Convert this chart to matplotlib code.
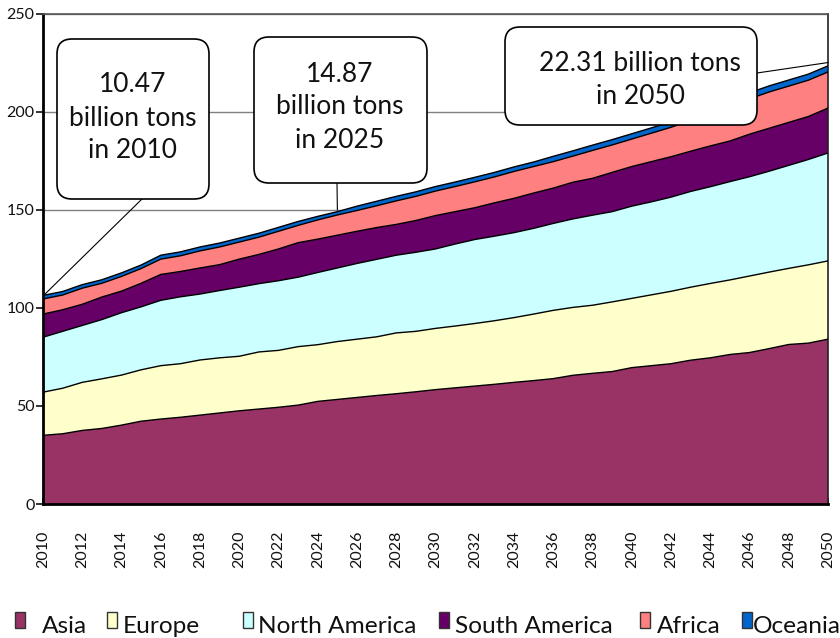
import matplotlib
matplotlib.use("Agg")
import matplotlib.pyplot as plt
from matplotlib.patches import FancyBboxPatch, Rectangle
from matplotlib.lines import Line2D

plt.rcParams['font.family'] = ['Lato', 'DejaVu Sans']

years = list(range(2010, 2051))

# Cumulative (stacked) tops of each region, unit: 100 million tons
asia_top = [35.0, 35.8, 37.5, 38.5, 40.2, 42.2, 43.3, 44.2, 45.3, 46.4, 47.5,
            48.4, 49.3, 50.4, 52.3, 53.3, 54.3, 55.3, 56.2, 57.2, 58.3,
            59.2, 60.1, 61.0, 62.0, 62.9, 63.9, 65.6, 66.6, 67.5, 69.5,
            70.5, 71.5, 73.3, 74.5, 76.2, 77.2, 79.2, 81.3, 82.0, 84.0]
europe_top = [57.0, 59.0, 62.0, 63.8, 65.7, 68.4, 70.5, 71.5, 73.4, 74.5, 75.3,
              77.5, 78.3, 80.2, 81.2, 82.8, 84.0, 85.2, 87.2, 88.0, 89.5,
              90.7, 92.0, 93.4, 95.0, 96.8, 98.7, 100.2, 101.3, 103.0, 104.8,
              106.6, 108.4, 110.5, 112.4, 114.2, 116.2, 118.2, 120.1, 121.9, 123.9]
namerica_top = [85.0, 88.0, 91.0, 94.0, 97.5, 100.5, 103.8, 105.6, 107.0, 108.8, 110.5,
                112.3, 113.8, 115.6, 118.0, 120.3, 122.6, 124.7, 126.8, 128.3, 130.0,
                132.5, 134.8, 136.5, 138.3, 140.5, 143.0, 145.3, 147.2, 149.0, 151.8,
                154.0, 156.4, 159.3, 161.7, 164.3, 166.8, 169.6, 172.6, 175.6, 178.9]
samerica_top = [96.8, 99.0, 101.8, 105.5, 108.5, 112.5, 117.0, 118.5, 120.3, 122.0, 124.8,
                127.2, 130.0, 133.2, 135.0, 137.0, 139.0, 140.9, 142.5, 144.5, 147.0,
                149.0, 151.0, 153.5, 155.8, 158.5, 161.0, 164.0, 166.0, 169.0, 172.0,
                174.5, 177.0, 179.8, 182.5, 185.0, 188.5, 191.5, 194.5, 197.5, 201.8]
africa_top = [104.5, 106.5, 110.0, 112.5, 116.0, 120.0, 124.8, 126.5, 129.0, 131.0, 133.5,
              136.0, 139.0, 142.0, 144.8, 147.3, 149.6, 152.0, 154.5, 156.8, 159.5,
              161.8, 164.2, 166.7, 169.5, 172.0, 174.5, 177.3, 180.2, 183.0, 186.0,
              189.0, 192.0, 195.5, 199.0, 202.5, 206.5, 210.0, 213.0, 216.0, 220.2]
oceania_top = [106.3, 108.3, 111.8, 114.3, 117.8, 121.8, 126.8, 128.5, 131.0, 133.0, 135.5,
               138.0, 141.0, 144.0, 146.6, 149.0, 151.8, 154.3, 156.8, 159.1, 161.8,
               164.1, 166.5, 169.0, 171.8, 174.3, 177.2, 180.0, 182.9, 185.7, 188.7,
               191.7, 194.7, 198.2, 201.7, 205.2, 209.6, 213.1, 216.1, 219.1, 223.3]

regions = ["Asia", "Europe", "North America", "South America", "Africa", "Oceania"]
colors = ["#993366", "#FFFFCC", "#CCFFFF", "#660066", "#FF8080", "#0066CC"]
tops = [asia_top, europe_top, namerica_top, samerica_top, africa_top, oceania_top]

callout_texts = ["10.47\nbillion tons\nin 2010", "14.87\nbillion tons\nin 2025",
                 "22.31 billion tons\nin 2050"]
yticks = [0, 50, 100, 150, 200, 250]

W, H = 840, 638
fig = plt.figure(figsize=(W / 100, H / 100), dpi=100)

def fx(x):
    return x / W

def fy(y):
    return 1 - y / H

ax = fig.add_axes([fx(43), fy(504), fx(828) - fx(43), fy(13.5) - fy(504)])

bottom = [0.0] * len(years)
for top, c in zip(tops, colors):
    ax.fill_between(years, bottom, top, facecolor=c, edgecolor='none', zorder=2)
    ax.plot(years, top, color='black', lw=1.0, zorder=3)
    bottom = top

ax.set_xlim(2010, 2050)
ax.set_ylim(0, 250)
ax.set_yticks(yticks)
ax.set_yticklabels([str(v) for v in yticks])
ax.set_xticks(years)
ax.set_xticklabels([str(y) if y % 2 == 0 else '' for y in years], rotation=90)
ax.grid(axis='y', color='#808080', lw=1.0, zorder=0)
ax.set_axisbelow(True)
ax.tick_params(axis='x', direction='in', length=4.5, width=1.2, pad=19, labelsize=11.5,
               colors='#111111')
ax.tick_params(axis='y', direction='out', length=5, width=1.2, pad=1, labelsize=11.5,
               colors='#111111')
for s in ['left', 'bottom']:
    ax.spines[s].set_linewidth(2.0)
    ax.spines[s].set_color('black')
ax.spines['top'].set_color('#555555')
ax.spines['top'].set_linewidth(1.2)
ax.spines['right'].set_color('#222222')
ax.spines['right'].set_linewidth(1.2)

# Callout boxes (positions in figure pixels)
boxes = [(57, 39, 209, 199), (254, 37, 427, 183), (505, 27, 757, 125)]
text_pos = [(133, 118), (340, 107), (640, 80)]
for (x0, y0, x1, y1), (tx, ty), txt in zip(boxes, text_pos, callout_texts):
    r = 15
    p = FancyBboxPatch((fx(x0 + r), fy(y1 - r)), fx(x1 - x0 - 2 * r), (y1 - y0 - 2 * r) / H,
                       boxstyle="round,pad=%f,rounding_size=%f" % (r / W, r / W),
                       transform=fig.transFigure, facecolor='white', edgecolor='black',
                       lw=1.2, zorder=10, mutation_aspect=W / H)
    fig.patches.append(p)
    fig.text(fx(tx), fy(ty), txt, ha='center', va='center', fontsize=19,
             linespacing=1.4, zorder=11, color='#111111')

# Leader lines: figure-pixel start to data point
leaders = [((142, 199), (2010, 106)), ((337, 183), (2025, 150)), ((757, 73), (2050, 225))]
for (sx, sy), (dx, dy) in leaders:
    px, py = ax.transData.transform((dx, dy))
    ex, ey = fig.transFigure.inverted().transform((px, py))
    fig.lines.append(Line2D([fx(sx), ex], [fy(sy), ey], transform=fig.transFigure,
                            color='black', lw=0.8, zorder=9))

# Legend drawn manually
leg_items = [(15, 42), (107, 123), (243, 258), (439, 455), (640, 657), (742, 753)]
for (mx, tx), name, c in zip(leg_items, regions, colors):
    fig.patches.append(Rectangle((fx(mx), fy(628)), 10 / W, 16 / H, transform=fig.transFigure,
                                 facecolor=c, edgecolor='#333333', lw=1.0))
    fig.text(fx(tx), fy(633), name, ha='left', va='baseline', fontsize=17.6, color='#111111')

fig.savefig("out.png", dpi=100)
